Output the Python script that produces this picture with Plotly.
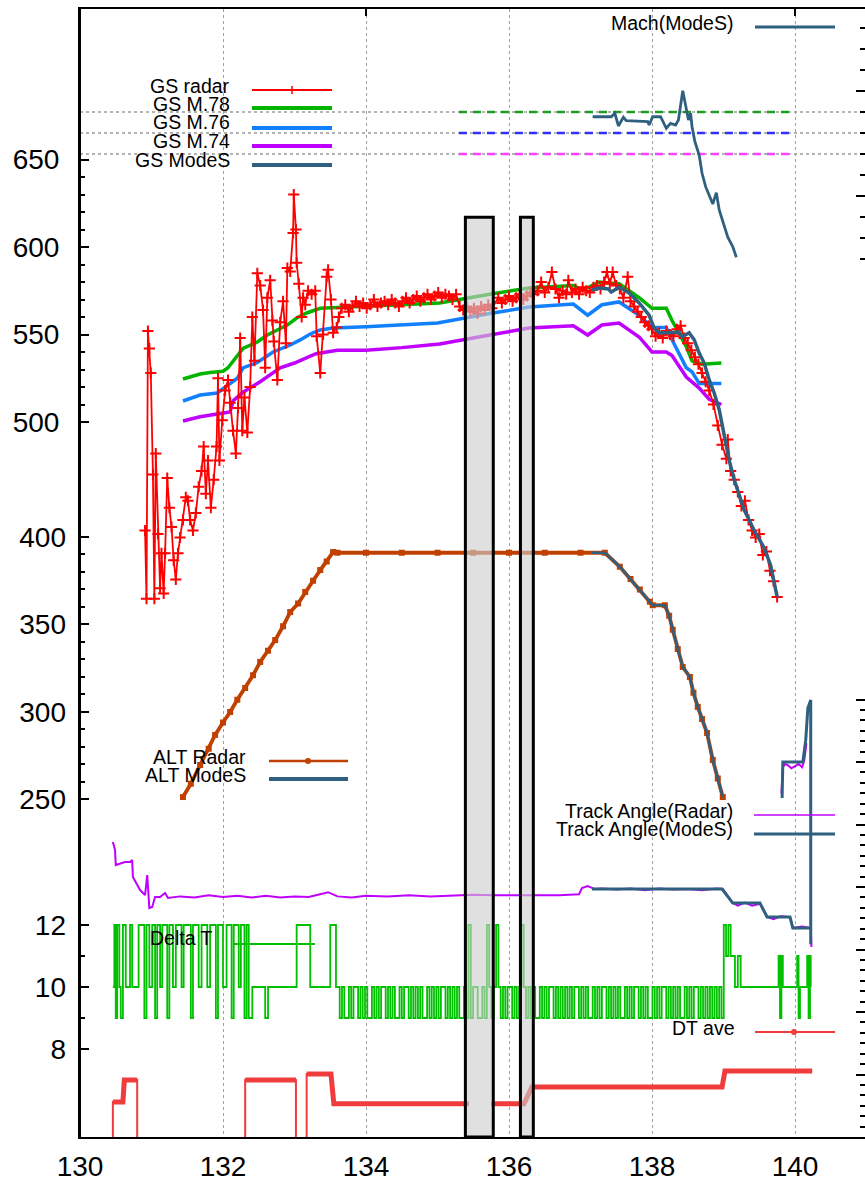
import numpy as np
import plotly.graph_objects as go

FONT = "Liberation Sans, Arial, Helvetica, sans-serif"

# ---------------- ground speed (kt) ----------------
gs78_t = [131.44, 131.68, 131.82, 132.0, 132.07, 132.2, 132.28, 132.48, 132.62, 132.76, 132.9, 133.03,
          133.17, 133.36, 133.64, 134.0, 134.5, 135.03, 135.73, 136.28, 136.9, 137.03, 137.26, 137.54,
          137.82, 138.0, 138.2, 138.28, 138.48, 138.56, 138.7, 138.97]
gs78_v = [524.6, 527.4, 528.3, 529, 531, 538, 542, 545.7, 549.7, 552.6, 555.4, 559.4,
          562.3, 565, 565.5, 566, 567, 568, 573, 576.6, 578, 575.4, 580, 579,
          571, 565, 565, 558, 543, 535, 533, 533.7]

gs76_t = [131.44, 131.68, 131.92, 132.1, 132.2, 132.28, 132.48, 132.7, 132.94, 133.08, 133.22, 133.36,
          133.54, 134.0, 134.5, 135.0, 135.73, 136.28, 136.9, 137.1, 137.3, 137.54, 137.82, 138.0,
          138.2, 138.28, 138.48, 138.56, 138.66, 138.97]
gs76_v = [512, 515.4, 516.6, 522, 525, 530.9, 534, 540, 544, 546.9, 550.3, 552.6,
          553.7, 554.5, 555.5, 556.6, 562, 565.7, 567.4, 561, 567, 568.6, 561, 554,
          554, 547, 531, 528.6, 522, 522]

gs74_t = [131.44, 131.68, 131.92, 132.1, 132.14, 132.28, 132.52, 132.8, 133.0, 133.3, 133.6, 134.0,
          134.5, 135.03, 135.73, 136.28, 136.9, 137.1, 137.3, 137.54, 137.82, 138.0, 138.2, 138.28,
          138.48, 138.66, 138.8, 138.97]
gs74_v = [500.6, 503, 504.6, 505.7, 512, 517, 523, 531, 533.7, 539, 541, 541,
          542.5, 544.6, 549.7, 553.7, 555, 549.7, 555.4, 556.6, 548.6, 540, 540, 538,
          525.7, 519.4, 513, 510]

# radar ground speed, climb part
gsr_climb_t = [130.91, 130.93, 130.95, 130.97, 130.99, 131.02, 131.04, 131.06, 131.09, 131.12, 131.14,
               131.17, 131.19, 131.22, 131.25, 131.28, 131.31, 131.34, 131.37, 131.4, 131.44, 131.48,
               131.51, 131.54, 131.58, 131.62, 131.66, 131.7, 131.73, 131.76, 131.79, 131.83, 131.87,
               131.91, 131.93, 131.95, 131.99, 132.03, 132.07, 132.1, 132.14, 132.18, 132.21, 132.24,
               132.27, 132.3, 132.34, 132.38, 132.41, 132.44, 132.48, 132.52, 132.56, 132.59, 132.62,
               132.66, 132.69, 132.71, 132.76, 132.8, 132.84, 132.88, 132.9, 132.94, 132.98, 132.99,
               133.02, 133.03, 133.06, 133.1, 133.12, 133.15, 133.19, 133.24, 133.29, 133.31, 133.36,
               133.4, 133.45, 133.47, 133.51, 133.54, 133.59, 133.62]
gsr_climb_v = [438, 399, 552, 542, 528, 470, 399, 482, 436, 405, 425,
               402, 425, 468, 451, 440, 421, 410, 425, 434, 444, 457,
               455, 444, 438, 448, 463, 472, 486, 459, 478, 451, 467,
               486, 525, 478, 501, 518, 524, 511, 495, 482, 508, 548,
               495, 514, 494, 520, 560, 535, 585, 578, 564, 531, 571,
               581, 558, 546, 524, 557, 569, 545, 588, 586, 608, 630,
               610, 591, 579, 560, 571, 567, 575, 573, 575, 549, 528,
               550, 583, 587, 570, 551, 554, 560]

# radar ground speed, cruise part (sampled every 0.05 from 133.66)
gsr_cruise_v = [565, 567, 563, 566, 569, 566, 568, 565, 567, 570, 566, 568, 569, 567, 570, 568, 566, 569,
                571, 568, 570, 572, 569, 571, 573, 570, 572, 574, 571, 573, 572, 570, 573, 566, 564,
                566, 563, 565, 562, 566, 564, 567, 565]

# radar ground speed, late cruise and descent
gsr_desc_t = [135.85, 135.9, 135.95, 136.0, 136.05, 136.1, 136.15, 136.2, 136.25, 136.3, 136.35, 136.4,
              136.45, 136.5, 136.55, 136.6, 136.65, 136.7, 136.75, 136.8, 136.83, 136.88, 136.93, 136.98,
              137.03, 137.08, 137.13, 137.18, 137.23, 137.28, 137.33, 137.37, 137.41, 137.45, 137.5,
              137.55, 137.6, 137.66, 137.7, 137.75, 137.8, 137.85, 137.9, 137.95, 138.0, 138.05, 138.1,
              138.15, 138.2, 138.25, 138.3, 138.35, 138.4, 138.45, 138.5, 138.55, 138.6, 138.65, 138.7,
              138.75, 138.8, 138.86, 138.92, 138.98, 139.04, 139.06, 139.1, 139.15, 139.2, 139.25, 139.3,
              139.35, 139.4, 139.45, 139.5, 139.55, 139.6, 139.65, 139.7, 139.75]
gsr_desc_v = [571, 568, 570, 572, 569, 571, 573, 570, 572, 574, 573, 575,
              580, 574, 577, 585.7, 576, 571, 575, 573, 581, 574, 576, 573,
              577, 575, 574, 577, 578, 576, 580, 585.7, 579, 585.7, 578,
              576, 571, 583, 569, 566, 563, 560, 557, 555, 553, 549, 551,
              548, 552, 550, 549, 553, 555, 548, 545, 541, 537, 533, 528,
              523, 518, 510, 498, 487, 479, 490, 472, 467, 460, 452, 455,
              444, 438, 434, 436, 424, 426, 415, 409, 400]

gsm_t = [137.16, 137.26, 137.39, 137.43, 137.54, 137.68, 137.82, 137.96, 138.03, 138.1, 138.24, 138.38,
         138.42, 138.52, 138.59, 138.66, 138.73, 138.8, 138.87, 138.94, 139.08, 139.15, 139.29, 139.43,
         139.57, 139.66, 139.75]
gsm_v = [575.4, 576.6, 576, 574.3, 577, 573.7, 568, 561, 553.7, 551, 551, 551.4,
         548.6, 551, 547, 539.4, 533.7, 524, 516.6, 507, 478, 467, 449.7, 438,
         428, 418, 400]

# ---------------- Mach ----------------
mach_t = [137.17, 137.43, 137.48, 137.53, 137.6, 137.64, 137.94, 137.96, 138.01, 138.12, 138.2, 138.26,
          138.33, 138.37, 138.43, 138.47, 138.51, 138.54, 138.56, 138.6, 138.66, 138.7, 138.75, 138.85,
          138.9, 138.94, 138.99, 139.06, 139.13, 139.18]
mach_v = [0.7755, 0.7755, 0.7788, 0.7667, 0.775, 0.7717, 0.7708, 0.7676, 0.7755, 0.7755, 0.7645, 0.7692,
          0.7676, 0.7724, 0.8003, 0.7867, 0.7724, 0.7788, 0.766, 0.7517, 0.739, 0.7216, 0.7089, 0.6924,
          0.7032, 0.6867, 0.6755, 0.6607, 0.6517, 0.6416]
mach_ref = [0.78, 0.76, 0.74]
mach_ref_span = [135.3, 139.93]

# ---------------- altitude (FL) ----------------
alt_climb_t = [131.44, 131.55, 131.68, 131.8, 131.89, 132.0, 132.1, 132.2, 132.31, 132.42, 132.52, 132.63,
               132.73, 132.84, 132.94, 133.05, 133.15, 133.26, 133.36, 133.45, 133.54]
alt_climb_v = [251.4, 259, 269.7, 279, 286.9, 294, 300, 307, 313.7, 321, 328.6, 335,
               341.1, 349, 357.1, 362, 368.6, 375, 381.1, 386, 391.4]
alt_cruise_t = [133.6, 134.0, 134.5, 135.0, 135.5, 136.0, 136.5, 137.0]
alt_cruise_v = [391, 391, 391, 391, 391, 391, 391, 391]
alt_desc_t = [137.34, 137.55, 137.7, 137.83, 137.97, 138.01, 138.18, 138.24, 138.29, 138.36, 138.43,
              138.53, 138.58, 138.64, 138.7, 138.77, 138.85, 138.92, 138.99]
alt_desc_v = [391, 383, 376, 370, 363, 361, 361, 355, 347, 336, 325.7,
              320, 311, 302.9, 296, 288, 272.6, 262, 251.4]
altm_start_t = [137.16]
altm_start_v = [391]

# ---------------- track angle (deg) ----------------
trr_t = [130.46, 130.49, 130.5, 130.63, 130.7, 130.73, 130.74, 130.78, 130.84, 130.91, 130.94, 130.97,
         131.01, 131.05, 131.12, 131.19, 131.23, 131.4, 131.6, 131.8, 132.0, 132.2, 132.4, 132.6,
         132.8, 133.0, 133.2, 133.47, 133.6, 133.8, 134.0, 134.3, 134.6, 134.9, 135.2, 135.5,
         135.8, 136.1, 136.4, 136.7, 136.98, 137.02, 137.1, 137.2, 137.3, 137.5, 137.7, 137.9,
         138.1, 138.3, 138.5, 138.7, 138.9, 138.99, 139.13, 139.2, 139.3, 139.4, 139.51, 139.61,
         139.7, 139.8, 139.93, 139.97, 140.1, 140.22, 140.23]
trr_v = [283.2, 275.5, 261.1, 264, 264, 266, 249.6, 244.8, 237.1, 232.3, 251.5, 219.8,
         220.8, 230.4, 230.4, 234.2, 229.4, 231, 230, 232, 230.5, 231.5, 230, 231.5,
         230, 231, 230.5, 235, 231, 230, 231.5, 231, 232, 231, 232, 232.5,
         232, 232, 232.5, 232, 233, 239, 241, 238, 238.5, 237.5, 238.5, 237,
         238.5, 237.5, 238, 237, 238.5, 238, 224.6, 222, 225, 222, 224, 211.2,
         209, 212, 211, 200.6, 202, 200.6, 182.4]
trr_wrap_t = [139.81, 139.83, 139.86, 139.9, 139.95, 140.0, 140.05, 140.1, 140.13, 140.16]
trr_wrap_v = [330, 355, 358, 357, 354, 356, 358, 355, 362, 378]
trm_t = [137.16, 138.98, 139.13, 139.51, 139.61, 139.93, 139.97, 140.22]
trm_v = [238, 238, 224.6, 224.6, 211.2, 211.2, 200.6, 200.6]
trm_wrap_t = [139.82, 139.83, 140.11, 140.15, 140.18, 140.22, 140.22]
trm_wrap_v = [325.4, 360, 360, 381, 411.8, 419.5, 185]

# ---------------- update interval (s) ----------------
dta_t = [130.46, 130.48, 130.5, 130.52, 130.55, 130.57, 130.6, 130.64, 130.7, 130.73, 130.82, 130.9,
         130.93, 130.97, 131.01, 131.05, 131.08, 131.12, 131.15, 131.22, 131.25, 131.3, 131.34, 131.42,
         131.45, 131.55, 131.58, 131.66, 131.7, 131.78, 131.82, 131.9, 131.93, 132.0, 132.05, 132.12,
         132.15, 132.22, 132.25, 132.3, 132.33, 132.36, 132.41, 132.59, 132.63, 133.03, 133.22, 133.5,
         133.58]
dta_v = [10, 12, 9, 12, 10, 9, 12, 10, 12, 10, 12, 9,
         12, 10, 12, 9, 12, 10, 12, 9, 12, 10, 12, 10,
         12, 9, 12, 10, 12, 10, 12, 9, 12, 10, 12, 9,
         12, 10, 12, 9, 12, 9, 10, 9, 10, 12, 10, 12,
         10]
dtb_span = [133.60, 139.10]
dtb_v = [10, 9, 10, 9, 9, 10, 9, 10, 10, 9, 10, 9, 10, 9, 9, 10, 9, 10, 9, 10,
         10, 9, 10, 9, 10, 9, 9, 10, 9, 10, 10, 9, 10, 9, 10, 9, 10, 9, 9, 10,
         9, 10, 9, 10, 9, 10, 10, 9, 10, 9, 10, 9, 10, 9, 9, 10, 9, 12, 9, 10,
         10, 9, 9, 10, 9, 12, 10, 9, 10, 12, 10, 9, 10, 9, 10, 10, 9, 10, 9, 10,
         12, 10, 9, 10, 9, 10, 9, 9, 10, 9, 10, 9, 10, 10, 9, 10, 9, 10, 9, 10,
         9, 10, 9, 10, 10, 9, 10, 9, 10, 9, 9, 10, 9, 10, 9, 10, 10, 9, 10, 9,
         10, 9, 10, 9, 9, 10, 9, 10, 9, 10, 10, 9, 10, 9, 10, 9, 9, 10, 9, 10,
         9, 10, 10, 9, 10, 9, 10, 9, 10, 9, 9, 10, 9, 10, 9, 10, 10, 9, 10, 9,
         10, 9, 10, 9, 10, 9, 10, 9, 12, 11, 12, 11]
dtc_t = [139.12, 139.16, 139.2, 139.24, 139.5, 139.77, 139.79, 139.81, 139.83, 140.03, 140.05, 140.07,
         140.17, 140.19, 140.21, 140.22]
dtc_v = [11, 10, 11, 10, 10, 11, 9, 11, 10, 11, 9, 10, 11, 9, 11, 10]

dtave_t = [130.46, 130.46, 130.6, 130.62, 130.8, 130.8, None,
           132.31, 132.31, 133.02, 133.02, None,
           133.17, 133.17, 133.51, 133.55, 135.44, None,
           135.75, 136.21, 136.32, 138.98, 139.02, 140.24]
dtave_v = [0, 6.29, 6.29, 7.0, 7.0, 0, None,
           0, 7.0, 7.0, 0, None,
           0, 7.19, 7.19, 6.23, 6.23, None,
           6.23, 6.23, 6.77, 6.77, 7.29, 7.29]

# shaded intervals (time span, top in kt)
boxes = [(135.39, 135.78), (136.16, 136.34)]
box_top = 617

# ---------------- colours ----------------
C_RED = "#ff0000"
C_GREEN = "#00b400"
C_BLUE = "#1080ff"
C_PURPLE = "#bf00ff"
C_MODES = "#2f6080"
C_ALT = "#c04000"
C_DT = "#00c000"
C_DTAVE = "#f03c3c"

# axis calibration
X_RANGE = [130, 130 + 785 / 71.5]
Y_GS = [91.43, 736.0]
Y_ALT = [57.14, 701.71]
Y_DT = [5.161, 41.548]
Y_MACH = [-0.1962, 0.8781]
Y_TRK = [0, 1082.88]

fig = go.Figure()

def line(x, y, color, width, axis="y", dash=None, shape="linear", mode="lines", marker=None, opacity=1):
    fig.add_trace(go.Scatter(x=x, y=y, yaxis=axis, mode=mode, line=dict(color=color, width=width, dash=dash, shape=shape),
                             marker=marker, opacity=opacity, hoverinfo="skip", connectgaps=False))

# Mach reference lines
for m, col in zip(mach_ref, ["#1e9e1e", "#3030ff", "#ff40ff"]):
    line([X_RANGE[0], 141], [m, m], "#9a9a9a", 1.6, axis="y4", dash="dot")
    line(mach_ref_span, [m, m], col, 2.6, axis="y4", dash="8px,6px")

# ground speed curves
line(gs78_t, gs78_v, C_GREEN, 3.5)
line(gs76_t, gs76_v, C_BLUE, 3.5)
line(gs74_t, gs74_v, C_PURPLE, 3.5)
cr_t = list(np.round(133.66 + 0.05 * np.arange(len(gsr_cruise_v)), 3))
gsr_t = gsr_climb_t + cr_t + gsr_desc_t
gsr_v = gsr_climb_v + gsr_cruise_v + gsr_desc_v
line(gsr_t, gsr_v, C_RED, 1.8, mode="lines+markers",
     marker=dict(symbol="cross-thin", size=8, line=dict(color=C_RED, width=2)))
line(gsm_t, gsm_v, C_MODES, 3.5)

# Mach from Mode S
line(mach_t, mach_v, C_MODES, 2.8, axis="y4")

# altitude
alt_t = alt_climb_t + alt_cruise_t + alt_desc_t
alt_v = alt_climb_v + alt_cruise_v + alt_desc_v
line(alt_t, alt_v, C_ALT, 3.8, axis="y2", mode="lines+markers", marker=dict(symbol="square", size=6, color=C_ALT))
line(altm_start_t + alt_desc_t, altm_start_v + alt_desc_v, C_MODES, 2.6, axis="y2")

# track angle
line(trr_t + [None] + trr_wrap_t, trr_v + [None] + trr_wrap_v, C_PURPLE, 2, axis="y5")
line(trm_t + [None] + trm_wrap_t, trm_v + [None] + trm_wrap_v, C_MODES, 3, axis="y5")

# update interval
dtb_t = list(np.linspace(dtb_span[0], dtb_span[1], len(dtb_v)))
line(dta_t + dtb_t + dtc_t, dta_v + dtb_v + dtc_v, C_DT, 1.8, axis="y3", shape="hv")
# running average: thin drop lines, thick plateaus
line(dtave_t, dtave_v, C_DTAVE, 2, axis="y3")
line(dtave_t, [None if v == 0 else v for v in dtave_v], C_DTAVE, 5, axis="y3")

# invisible trace keeping the top tick axis alive
fig.add_trace(go.Scatter(x=[X_RANGE[0]], y=[Y_GS[0]], xaxis="x2", yaxis="y", mode="markers",
                         marker=dict(opacity=0), hoverinfo="skip"))

shapes = []
for x0, x1 in boxes:
    shapes.append(dict(type="rect", xref="x", yref="y", x0=x0, x1=x1, y0=Y_GS[0], y1=box_top,
                       fillcolor="rgba(205,205,205,0.62)", line=dict(color="black", width=3), layer="above"))

# left frame edge
shapes.append(dict(type="line", xref="paper", yref="paper", x0=0, x1=0, y0=0, y1=1,
                   line=dict(color="black", width=2), layer="above"))

# legend samples (pixel helpers)
def px(x):
    return (x - 80) / 785

def py(y):
    return (1137 - y) / 1128

annotations = []

def legend_entry(text, tx, ty, lx0, lx1, ly, color, width, dash=None):
    annotations.append(dict(text=text, xref="paper", yref="paper", x=px(tx), y=py(ty), xanchor="right",
                            yanchor="middle", showarrow=False, font=dict(family=FONT, size=19.5, color="black")))
    shapes.append(dict(type="line", xref="paper", yref="paper", x0=px(lx0), x1=px(lx1), y0=py(ly), y1=py(ly),
                       line=dict(color=color, width=width, dash=dash)))

legend_entry("GS radar", 232, 86, 252, 332, 90, C_RED, 2)
legend_entry("GS M.78", 232, 103.5, 252, 332, 108, C_GREEN, 4)
legend_entry("GS M.76", 232, 122, 252, 332, 128, C_BLUE, 4)
legend_entry("GS M.74", 232, 140.5, 252, 332, 146, C_PURPLE, 4)
legend_entry("GS ModeS", 232, 160.5, 252, 332, 165, C_MODES, 4)
legend_entry("Mach(ModeS)", 735, 23, 755, 835, 27, C_MODES, 3)
legend_entry("ALT Radar", 248, 757, 269, 348, 761, C_ALT, 2.5)
legend_entry("ALT ModeS", 248, 775, 269, 348, 779, C_MODES, 4)
legend_entry("Track Angle(Radar)", 735, 811, 754, 835, 815, C_PURPLE, 1.5)
legend_entry("Track Angle(ModeS)", 735, 829, 754, 835, 834, C_MODES, 3)
legend_entry("Delta T", 215, 938, 233, 315, 944, C_DT, 2)
legend_entry("DT ave", 737, 1028, 755, 835, 1032, C_DTAVE, 2)

shapes.append(dict(type="line", xref="paper", yref="paper", x0=px(292), x1=px(292), y0=py(86), y1=py(94),
                   line=dict(color=C_RED, width=1.5)))
shapes.append(dict(type="circle", xref="paper", yref="paper", x0=px(305), x1=px(311), y0=py(758), y1=py(764),
                   fillcolor=C_ALT, line=dict(color=C_ALT, width=0)))
shapes.append(dict(type="circle", xref="paper", yref="paper", x0=px(791), x1=px(797), y0=py(1029), y1=py(1035),
                   fillcolor=C_DTAVE, line=dict(color=C_DTAVE, width=0)))

tickfont = dict(family=FONT, size=28, color="black")

def yax(rng, tickvals, minor_vals, side="left", labels=True, showline=False, major_len=9):
    d = dict(range=rng, tickmode="array", tickvals=tickvals, ticks="inside", ticklen=major_len, tickwidth=2,
             tickcolor="black", showticklabels=labels, tickfont=tickfont, showgrid=False, zeroline=False,
             showline=showline, linecolor="black", linewidth=2, side=side, ticklabelstandoff=13,
             automargin=False,
             minor=dict(tickmode="array", tickvals=minor_vals, ticks="inside", ticklen=5, tickwidth=1.5,
                        tickcolor="black", showgrid=False))
    return d

gs_minor = [v for v in range(510, 650, 10) if v % 50]
alt_minor = [v for v in range(260, 400, 10) if v % 50]
mach_minor = [0.64, 0.66, 0.68, 0.72, 0.74, 0.76, 0.78, 0.82, 0.84, 0.86]
trk_minor = [v for v in range(10, 420, 10) if v % 60]

ya = yax(Y_GS, [500, 550, 600, 650], gs_minor, showline=True)
ya2 = yax(Y_ALT, [250, 300, 350, 400], alt_minor)
ya2.update(overlaying="y", anchor="x")
ya3 = yax(Y_DT, [8, 10, 12], [9, 11])
ya3.update(overlaying="y", anchor="x")
ya4 = yax(Y_MACH, [0.70, 0.80], mach_minor, side="right", labels=False)
ya4.update(overlaying="y", anchor="x")
ya5 = yax(Y_TRK, list(range(0, 421, 60)), trk_minor, side="right", labels=False)
ya5.update(overlaying="y", anchor="x")

fig.update_layout(
    width=865, height=1181,
    margin=dict(l=80, r=0, t=9, b=44, autoexpand=False),
    paper_bgcolor="white", plot_bgcolor="white",
    showlegend=False,
    xaxis=dict(range=X_RANGE, tickmode="array", tickvals=[130, 132, 134, 136, 138, 140], ticks="",
               showgrid=True, gridcolor="#a0a0a0", griddash="3px,3px", gridwidth=1.3, zeroline=False,
               showline=True, linecolor="black", linewidth=2, mirror=True, tickfont=tickfont,
               ticklabelstandoff=3, automargin=False),
    xaxis2=dict(range=X_RANGE, overlaying="x", side="top", anchor="y", tickmode="array", tickvals=[134, 140],
                ticks="inside", ticklen=7, tickwidth=2, tickcolor="black", showticklabels=False,
                showgrid=False, zeroline=False, showline=False, automargin=False),
    yaxis=ya, yaxis2=ya2, yaxis3=ya3, yaxis4=ya4, yaxis5=ya5,
    shapes=shapes, annotations=annotations,
)

fig.write_html("out.html")
